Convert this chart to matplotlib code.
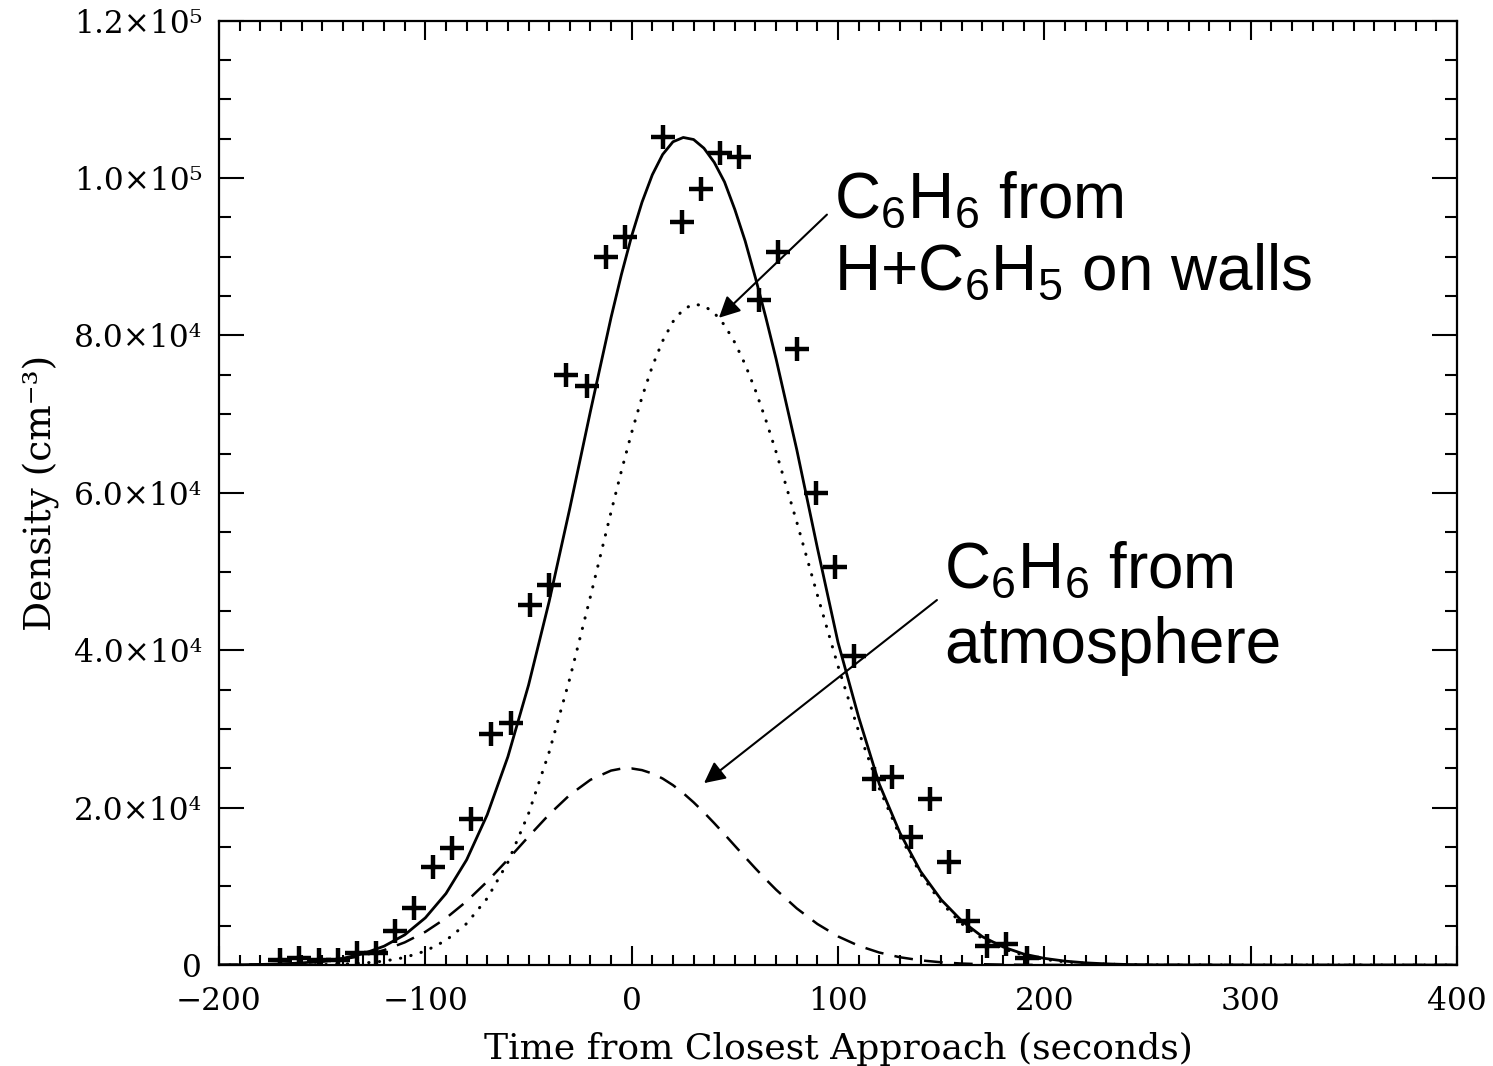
import numpy as np
import matplotlib
matplotlib.use('Agg')
import matplotlib.pyplot as plt

# Measured densities (plus markers)
obs_time = [-170.4, -161.2, -151.5, -142.2, -133.0, -123.8, -114.6, -105.3, -96.1, -86.9,
            -77.7, -68.4, -58.3, -49.5, -40.3, -31.6, -21.8, -12.6, -3.4, 15.0,
            24.3, 33.5, 42.7, 51.9, 61.7, 70.9, 80.1, 89.3, 98.5, 107.8,
            117.5, 126.2, 135.4, 144.7, 153.9, 163.1, 172.3, 181.6, 191.7]
obs_density = [700, 900, 700, 600, 1500, 1500, 4300, 7200, 12400, 14900,
               18500, 29300, 30700, 45700, 48300, 75000, 73600, 90000, 92500, 105200,
               94400, 98600, 103200, 102700, 84500, 90600, 78300, 60000, 50600, 39300,
               23600, 23900, 16300, 21100, 13100, 5600, 2400, 2700, 900]

# Model curves
model_time = [-200, -190, -180, -170, -160, -150, -140, -130, -120, -110,
              -100, -90, -80, -70, -60, -50, -40, -30, -20, -10,
              -5, 0, 5, 10, 15, 20, 25, 30, 35, 40,
              45, 50, 55, 60, 65, 70, 80, 90, 100, 110,
              120, 130, 140, 150, 160, 170, 180, 190, 200, 210,
              220, 230, 240, 250, 300, 400]
total_fit = [20, 37, 75, 144, 268, 486, 853, 1450, 2400, 3840,
             6000, 9090, 13370, 19110, 26470, 35560, 46200, 58020, 70360, 82280,
             87730, 92660, 96930, 100420, 103000, 104610, 105160, 104900, 103800, 102000,
             99500, 96000, 92000, 87300, 82300, 77000, 65500, 53000, 41000, 31500,
             23000, 16800, 11900, 8300, 5600, 3600, 2300, 1400, 850, 500,
             280, 150, 70, 30, 0, 0]
wall_fit = [1, 1, 4, 10, 23, 53, 118, 248, 500, 963,
            1777, 3130, 5270, 8490, 13060, 19240, 27060, 36400, 46820, 57570,
            62770, 67680, 72160, 76080, 79300, 81750, 83320, 83980, 83780, 82870,
            81310, 79090, 76310, 73010, 69270, 65190, 56300, 47020, 37990, 29690,
            22440, 16400, 11590, 7930, 5240, 3350, 2080, 1240, 720, 400,
            218, 114, 58, 28, 0, 0]
atmos_fit = [18, 36, 71, 134, 245, 433, 735, 1200, 1900, 2880,
             4220, 5960, 8100, 10620, 13410, 16320, 19140, 21620, 23540, 24710,
             24960, 24980, 24770, 24340, 23700, 22860, 21840, 20680, 19400, 18030,
             16610, 15150, 13700, 12270, 10890, 9570, 7200, 5220, 3640, 2450,
             1590, 990, 600, 350, 190, 105, 54, 27, 13, 6,
             3, 1, 0, 0, 0, 0]

xtick_vals = [-200, -100, 0, 100, 200, 300, 400]
xtick_labels = ['\u2212200', '\u2212100', '0', '100', '200', '300', '400']
ytick_vals = [0, 20000, 40000, 60000, 80000, 100000, 120000]
ytick_labels = ['0', '2.0\u00d710\u2074', '4.0\u00d710\u2074', '6.0\u00d710\u2074',
                '8.0\u00d710\u2074', '1.0\u00d710\u2075', '1.2\u00d710\u2075']

plt.rcParams['mathtext.fontset'] = 'custom'
plt.rcParams['mathtext.rm'] = 'Liberation Sans'
plt.rcParams['mathtext.it'] = 'Liberation Sans:italic'
plt.rcParams['mathtext.bf'] = 'Liberation Sans:bold'

fig = plt.figure(figsize=(14.93, 10.66), dpi=100)
ax = fig.add_axes([0.1467, 0.0947, 0.8292, 0.8859])

ax.plot(model_time, total_fit, color='k', lw=2.0)
ax.plot(model_time, wall_fit, color='k', lw=2.2, linestyle=(0, (0.1, 3.4)),
        dash_capstyle='round')
ax.plot(model_time, atmos_fit, color='k', lw=1.8, linestyle=(0, (7.5, 4.5)))
ax.plot(obs_time, obs_density, linestyle='none', marker='+', color='k',
        markersize=17, markeredgewidth=3.2)

ax.set_xlim(-200, 400)
ax.set_ylim(0, 120000)
ax.set_xticks(xtick_vals)
ax.set_xticklabels(xtick_labels)
ax.set_xticks(np.arange(-200, 401, 10), minor=True)
ax.set_yticks(ytick_vals)
ax.set_yticklabels(ytick_labels)
ax.set_yticks(np.arange(0, 120001, 5000), minor=True)

serif = 'DejaVu Serif'
for lab in ax.get_xticklabels() + ax.get_yticklabels():
    lab.set_family(serif)
    lab.set_fontsize(22.5)

ax.tick_params(axis='x', which='major', direction='in', length=13.5, width=1.5,
               top=True, pad=15)
ax.tick_params(axis='x', which='minor', direction='in', length=7, width=1.5, top=True)
ax.tick_params(axis='y', which='major', direction='in', length=18, width=1.5,
               right=True, pad=12)
ax.tick_params(axis='y', which='minor', direction='in', length=8.5, width=1.5, right=True)
for s in ax.spines.values():
    s.set_linewidth(1.6)

ax.set_xlabel('Time from Closest Approach (seconds)', family=serif, fontsize=26,
              labelpad=11)
ax.set_ylabel('Density (cm\u207b\u00b3)', family=serif, fontsize=27, labelpad=10)

# annotations
ann_font = dict(family='Liberation Sans', fontsize=46, color='k')
arrow = dict(arrowstyle='-|>', color='k', lw=1.5, mutation_scale=32)
ax.annotate('', xy=(41.3, 82000), xytext=(95.6, 95600), arrowprops=arrow)
ax.annotate('', xy=(34, 22900), xytext=(149, 46600), arrowprops=arrow)
ax.text(98, 94900, r'C$_\mathregular{6}$H$_\mathregular{6}$ from', va='baseline', **ann_font)
ax.text(98, 85800, r'H+C$_\mathregular{6}$H$_\mathregular{5}$ on walls', va='baseline', **ann_font)
ax.text(151.5, 47900, r'C$_\mathregular{6}$H$_\mathregular{6}$ from', va='baseline', **ann_font)
ax.text(151.5, 38400, 'atmosphere', va='baseline', **ann_font)

fig.savefig('out.png', dpi=100)
